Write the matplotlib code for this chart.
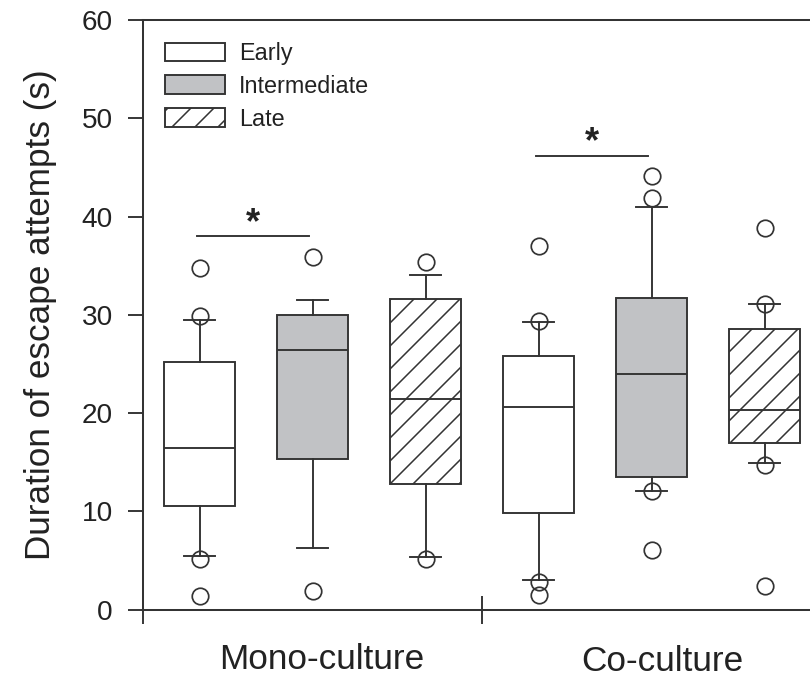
import matplotlib
matplotlib.use("Agg")
import matplotlib.pyplot as plt
from matplotlib.patches import Patch
import matplotlib.transforms as mtransforms

plt.rcParams['font.family'] = ['Liberation Sans', 'DejaVu Sans']
plt.rcParams['hatch.linewidth'] = 0.8

# ---------------- data ----------------
groups = ["Mono-culture", "Co-culture"]
stages = ["Early", "Intermediate", "Late"]

medians = [16.4, 26.4, 21.4, 20.6, 24.0, 20.3]
q1s = [10.55, 15.3, 12.8, 9.86, 13.46, 16.95]
q3s = [25.15, 30.0, 31.6, 25.8, 31.7, 28.6]
whis_lo = [5.5, 6.3, 5.4, 3.0, 12.1, 14.9]
whis_hi = [29.5, 31.5, 34.1, 29.3, 41.0, 31.05]
fliers = [
    [34.8, 29.9, 5.2, 1.4],
    [35.9, 1.9],
    [35.4, 5.2],
    [37.0, 29.4, 2.8, 1.5],
    [44.1, 41.9, 12.1, 6.1],
    [38.8, 31.1, 14.75, 2.4],
]
positions = [0, 1, 2, 3, 4, 5]
sig_pairs = [(0, 1, 38.0), (3, 4, 46.2)]
yticks = [0, 10, 20, 30, 40, 50, 60]

DARK = "#333333"
GRAY = "#c1c2c5"
face = ["white", GRAY, "white"] * 2
hatch = [None, None, "//"] * 2

DPI = 138
fig = plt.figure(figsize=(810 / DPI, 676 / DPI), dpi=DPI)
ax = fig.add_axes([143 / 810, 66.4 / 676, 677 / 810, 589.6 / 676])

stats = []
for i in range(len(positions)):
    stats.append(dict(med=medians[i], q1=q1s[i], q3=q3s[i],
                      whislo=whis_lo[i], whishi=whis_hi[i],
                      fliers=fliers[i], label=""))

lw = 1.0
bp = ax.bxp(stats, positions=positions, widths=0.62, capwidths=0.28,
            patch_artist=True, showfliers=True,
            boxprops=dict(edgecolor=DARK, linewidth=lw),
            medianprops=dict(color=DARK, linewidth=lw),
            whiskerprops=dict(color=DARK, linewidth=lw),
            capprops=dict(color=DARK, linewidth=lw),
            flierprops=dict(marker="o", markerfacecolor="none",
                            markeredgecolor=DARK, markersize=8.6,
                            markeredgewidth=0.9, linestyle="none"))
for b, fc, h in zip(bp["boxes"], face, hatch):
    b.set_facecolor(fc)
    if h:
        b.set_hatch(h)
for fl in bp["fliers"]:
    fl.set_zorder(4)

# significance bars
for a, b, y in sig_pairs:
    ax.plot([a - 0.02, b - 0.03], [y, y], color=DARK, lw=lw)
    ax.text((a + b) / 2 - 0.03, y - 0.5, "*", ha="center", va="bottom",
            fontsize=19, fontweight="bold", color="#222222")

ax.set_xlim(-0.5, -0.5 + 677 / 113)
ax.set_ylim(0, 60)
ax.set_yticks(yticks)
ax.set_xticks([-0.5, 2.5])
ax.set_xticklabels([])
ax.tick_params(axis="y", direction="out", length=7.8, width=1.0,
               color=DARK, labelsize=14.6, pad=8, labelcolor="#222222")
ax.tick_params(axis="x", direction="inout", length=15, width=1.0, color=DARK)
for s in ["left", "bottom", "top"]:
    ax.spines[s].set_linewidth(1.05)
    ax.spines[s].set_color(DARK)
ax.spines["right"].set_visible(False)

ax.set_ylabel("Duration of escape attempts (s)", fontsize=18.3,
              color="#222222", labelpad=13)

# group labels
trans = mtransforms.blended_transform_factory(ax.transData, fig.transFigure)
ax.text(1.08, 17 / 676, groups[0], transform=trans, ha="center", va="center",
        fontsize=18.3, color="#222222")
ax.text(4.10, 15 / 676, groups[1], transform=trans, ha="center", va="center",
        fontsize=18.3, color="#222222")

handles = [Patch(facecolor=face[i], edgecolor=DARK, linewidth=lw,
                 hatch=hatch[i]) for i in range(3)]
ax.legend(handles, stages, loc="upper left",
          bbox_to_anchor=(22 / 677, 1 - 22 / 589.6),
          frameon=False, fontsize=12.2, handlelength=2.55, handleheight=0.85,
          handletextpad=0.6, labelspacing=0.42, borderaxespad=0.0,
          borderpad=0.0, labelcolor="#222222")

fig.savefig("out.png", dpi=DPI)
